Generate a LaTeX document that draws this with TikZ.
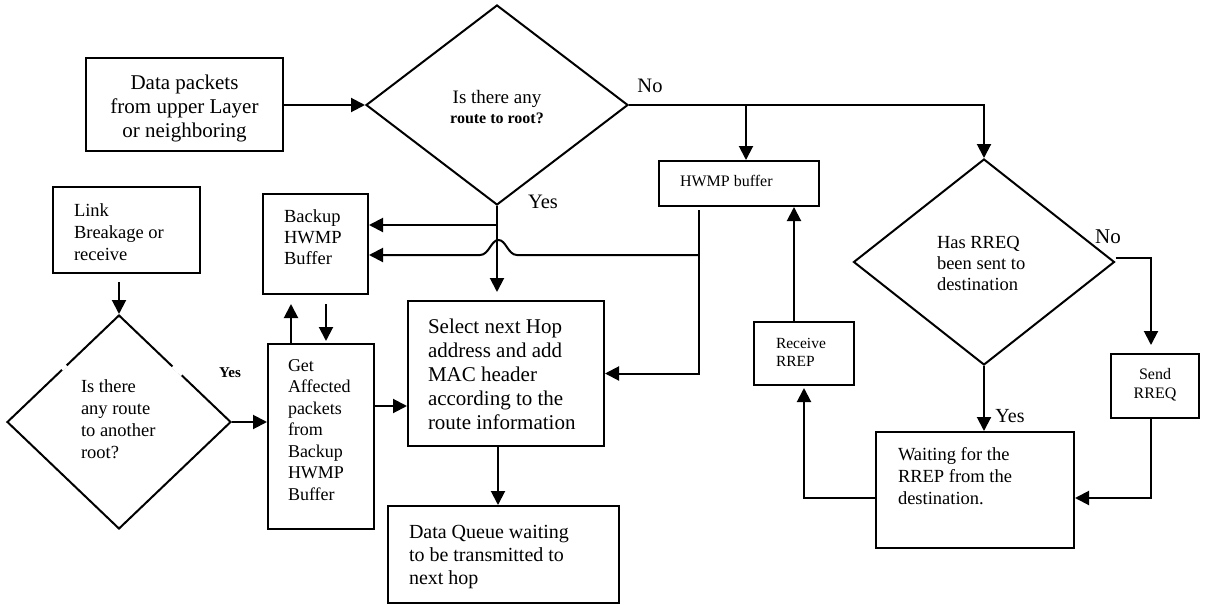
\documentclass[tikz,border=0pt]{standalone}
\usepackage{fontspec}
\setmainfont{Liberation Serif}
\usetikzlibrary{arrows.meta,shapes.geometric,calc}
\newcommand{\tb}[5]{\parbox[c][#2pt][t]{#1pt}{#4\rule{0pt}{#3pt}#5}}
\newcommand{\fsz}[2]{\fontsize{#1pt}{#2pt}\selectfont}
\newcommand{\lft}[1]{\raggedright\leftskip=#1pt\relax}
\begin{document}
\begin{tikzpicture}[x=1pt,y=-1pt,
  box/.style={draw, line width=2pt, inner sep=0pt, anchor=north west},
  dia/.style={draw, diamond, line width=2pt, inner sep=0pt},
  arr/.style={line width=2pt, -{Triangle[length=14pt,width=14pt]}},
  lbl/.style={inner sep=0pt}]
\useasboundingbox (0,0) rectangle (1211,605);

% boxes
\node[box, font=\fsz{21}{24}] (dp) at (85,57) {\tb{197}{93}{31}{\centering}{Data packets\\from upper Layer\\or neighboring}};
\node[box, font=\fsz{18.5}{22}] (lb) at (52,186) {\tb{147}{86}{29}{\lft{21}}{Link\\Breakage or\\receive}};
\node[box, font=\fsz{18.5}{21}] (bk) at (262,193) {\tb{105}{100}{28}{\lft{21}}{Backup\\HWMP\\Buffer}};
\node[box, font=\fsz{18}{21.5}] (ga) at (267,343) {\tb{106}{185}{27}{\lft{20}}{Get\\Affected\\packets\\from\\Backup\\HWMP\\Buffer}};
\node[box, font=\fsz{21}{24}] (sel) at (407,300) {\tb{196}{145}{32}{\lft{20}}{Select next Hop\\address and add\\MAC header\\according to the\\route information}};
\node[box, font=\fsz{20}{23}] (dq) at (387,505) {\tb{231}{97}{32}{\lft{21}}{Data Queue waiting\\to be transmitted to\\next hop}};
\node[box, font=\fsz{16}{19}] (hb) at (658,160) {\tb{160}{45}{25}{\lft{21}}{HWMP buffer}};
\node[box, font=\fsz{15.5}{18}] (rr) at (753,321) {\tb{100}{63}{26}{\lft{22}}{Receive\\RREP}};
\node[box, font=\fsz{16}{19}] (sr) at (1110,353) {\tb{88}{64}{25}{\centering}{Send\\RREQ}};
\node[box, font=\fsz{18.5}{22}] (wt) at (875,431) {\tb{198}{116}{28}{\lft{22}}{Waiting for the\\RREP from the\\destination.}};

% diamonds
\node[dia, minimum width=262pt, minimum height=200pt, font=\fsz{19}{20}] (d1) at (497,105)
  {\tb{130}{44}{20}{\centering}{Is there any\\{\bfseries\fsz{16}{20}route to root?}}};
\node[dia, minimum width=261pt, minimum height=206pt, font=\fsz{18.5}{21}] (d2) at (984,262)
  {\tb{120}{76}{24}{\lft{13}}{Has RREQ\\been sent to\\destination}};
\node[dia, minimum width=224pt, minimum height=214pt, font=\fsz{18.5}{22}] (d3) at (119,422)
  {\tb{100}{88}{14}{\lft{12}}{Is there\\any route\\to another\\root?}};

% small gaps in the lower-left diamond
\draw[white, line width=4.5pt] ($(d3.north)!0.47!(d3.west)$) -- ($(d3.north)!0.51!(d3.west)$);
\draw[white, line width=4.5pt] ($(d3.north)!0.48!(d3.east)$) -- ($(d3.north)!0.56!(d3.east)$);

% labels
\node[lbl, font=\fsz{20.5}{22}] (no1) at (650,86) {No};
\node[lbl, font=\fsz{20.5}{22}] (yes1) at (543,202) {Yes};
\node[lbl, font=\fsz{21}{22}] (no2) at (1108,237) {No};
\node[lbl, font=\fsz{20}{22}] (yes2) at (1010,416) {Yes};
\node[lbl, font=\fsz{15}{17}\bfseries] (yes3) at (230,373) {Yes};

% coordinates
\coordinate (j1) at (497,225);
\coordinate (j2) at (698,255);
\coordinate (hbs) at ([xshift=-40pt,yshift=-3pt]hb.south);

% connectors
\draw[arr] (d1.west -| dp.east) -- (d1.west);
\draw[arr] (d1.east) -| (d2.north);
\draw[arr] ([xshift=7pt]hb.north |- d1.east) -- ([xshift=7pt]hb.north);
\draw[arr, shorten >=8pt] (d1.south) -- (d1.south |- sel.north);
\draw[arr] (j1) -- (j1 -| bk.east);
\draw[arr] (hbs) |- (sel.east);
\draw[arr] (j2) -- (517,255) .. controls (508,255) and (506,240) .. (498.5,240)
  .. controls (491,240) and (489,255) .. (480,255) -- (j2 -| bk.east);
\draw[arr] ([xshift=-10pt]rr.north) -- ([xshift=-10pt]rr.north |- hb.south);
\draw[arr, shorten >=2pt] ([yshift=-8pt]wt.west) -| (rr.south);
\draw[arr] (d2.south) -- (d2.south |- wt.north);
\draw[arr, shorten >=8pt] ([yshift=4pt]d2.east) -| ([xshift=-4pt]sr.north);
\draw[arr] ([xshift=-4pt]sr.south) |- ([yshift=-8pt]wt.east);
\draw[arr, shorten <=8pt] (d3.north |- lb.south) -- (d3.north);
\draw[arr] (d3.east) -- (d3.east -| ga.west);
\draw[arr] ([yshift=30.5pt]ga.east) -- ([yshift=30.5pt]ga.east -| sel.west);
\draw[arr, shorten >=9pt] ([xshift=-30pt]ga.north) -- ([xshift=-30pt]ga.north |- bk.south);
\draw[arr, shorten <=9pt, shorten >=2pt] ([xshift=5pt]ga.north |- bk.south) -- ([xshift=5pt]ga.north);
\draw[arr] ([xshift=-8pt]sel.south) -- ([xshift=-8pt]sel.south |- dq.north);
\end{tikzpicture}
\end{document}
